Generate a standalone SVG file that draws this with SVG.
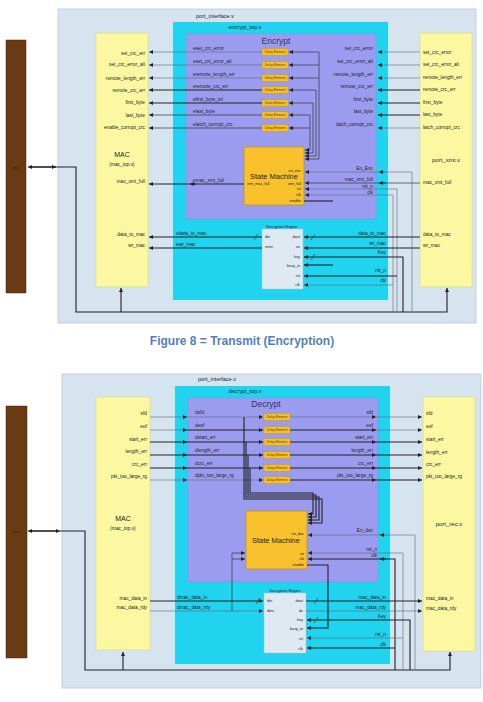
<svg xmlns="http://www.w3.org/2000/svg" width="483" height="702" viewBox="0 0 483 702">
<style>
.t{font-family:"Liberation Sans",Arial,sans-serif;fill:#222}
.s{font-size:4.8px}
.xs{font-size:3.8px}
.dl{font-size:3.2px;fill:#5a4200}
.r{text-anchor:end}
.m{text-anchor:middle}
.outer{fill:#d5e4ef;stroke:#b9c9d6;stroke-width:0.8}
.bar{fill:#6a3a12;stroke:#4e2a0c;stroke-width:0.5}
.mac{fill:#fcf8a2;stroke:#ddd67a;stroke-width:0.6}
.cyan{fill:#20d3ef}
.purple{fill:#9b9cf0;stroke:#8a8ae0;stroke-width:0.5}
.sm{fill:#f9c22c;stroke:#b8901a;stroke-width:0.7}
.dly{fill:#f5c02e;stroke:#c89410;stroke-width:0.5}
.eng{fill:#dfe9f2;stroke:#b0c0cc;stroke-width:0.5}
.w{stroke:#333;stroke-width:0.7;fill:none}
.wt{stroke:#222;stroke-width:1.1;fill:none}
.wg{stroke:#667;stroke-width:0.6;fill:none}
.cap{font-family:"Liberation Sans",Arial,sans-serif;font-size:12px;font-weight:bold;fill:#4f81bd}
</style>
<defs>
<marker id="a" viewBox="0 0 6 6" refX="6" refY="3" markerWidth="4" markerHeight="4" markerUnits="userSpaceOnUse" orient="auto"><path d="M0,0 L6,3 L0,6 z" fill="#222"/></marker>
</defs>

<!-- ============ TOP: Transmit ============ -->
<g id="port-interface-top"><rect x="58" y="9" width="418" height="314" class="outer"/><text x="215" y="18" class="t s m" style="font-size:5.5px">port_interface.v</text></g>
<g id="port-bar-top"><rect x="6" y="40" width="20" height="253" class="bar"/><text x="16" y="169" class="t xs m">port</text></g>
<g id="mac-top">
<rect x="96" y="33" width="52" height="254" class="mac"/>
<text x="145" y="55" class="t s r">set_crc_err</text>
<text x="145" y="66" class="t s r">set_crc_error_alt</text>
<text x="145" y="80" class="t s r">remote_length_err</text>
<text x="145" y="92" class="t s r">remote_crc_err</text>
<text x="145" y="104" class="t s r">first_byte</text>
<text x="145" y="117" class="t s r">last_byte</text>
<text x="145" y="129" class="t s r">enable_corrupt_crc</text>
<text x="122" y="157" class="t m" style="font-size:7px">MAC</text>
<text x="122" y="166" class="t s m">(mac_top.v)</text>
<text x="145" y="183" class="t s r">mac_xmt_full</text>
<text x="145" y="236" class="t s r">data_to_mac</text>
<text x="145" y="247" class="t s r">wr_mac</text>
</g>
<g id="encrypt-top"><rect x="173" y="22" width="215" height="278" class="cyan"/><text x="245" y="29" class="t s m" style="font-size:5.5px">encrypt_top.v</text></g>
<g id="encrypt">
<rect x="186" y="34" width="190" height="185" class="purple"/>
<text x="276" y="44" class="t m" style="font-size:8.5px;fill:#33335a">Encrypt</text>
<text x="193" y="50" class="t s">eset_crc_error</text>
<text x="193" y="63" class="t s">eset_crc_error_alt</text>
<text x="193" y="76" class="t s">eremote_length_err</text>
<text x="193" y="88" class="t s">eremote_crc_err</text>
<text x="193" y="101" class="t s">efirst_byte_int</text>
<text x="193" y="113" class="t s">elast_byte</text>
<text x="193" y="126" class="t s">elatch_corrupt_crc</text>
<text x="373" y="50" class="t s r">set_crc_error</text>
<text x="373" y="63" class="t s r">set_crc_error_alt</text>
<text x="373" y="76" class="t s r">remote_length_err</text>
<text x="373" y="88" class="t s r">remote_crc_err</text>
<text x="373" y="101" class="t s r">first_byte</text>
<text x="373" y="113" class="t s r">last_byte</text>
<text x="373" y="126" class="t s r">latch_corrupt_crc</text>
<text x="373" y="170" class="t s r">En_Enc</text>
<text x="373" y="181" class="t s r">mac_xmt_full</text>
<text x="373" y="187.5" class="t s r">rst_n</text>
<text x="373" y="193.5" class="t s r">clk</text>
<text x="193" y="182" class="t s">emac_xmt_full</text>
</g>
<g id="delay-top">
<rect x="262" y="48.5" width="26" height="7" class="dly"/><text x="275" y="53.2" class="t dl m">Delay Element</text>
<rect x="262" y="61.5" width="26" height="7" class="dly"/><text x="275" y="66.2" class="t dl m">Delay Element</text>
<rect x="262" y="74.5" width="26" height="7" class="dly"/><text x="275" y="79.2" class="t dl m">Delay Element</text>
<rect x="262" y="86.5" width="26" height="7" class="dly"/><text x="275" y="91.2" class="t dl m">Delay Element</text>
<rect x="262" y="99.5" width="26" height="7" class="dly"/><text x="275" y="104.2" class="t dl m">Delay Element</text>
<rect x="262" y="111.5" width="26" height="7" class="dly"/><text x="275" y="116.2" class="t dl m">Delay Element</text>
<rect x="262" y="124.5" width="26" height="7" class="dly"/><text x="275" y="129.2" class="t dl m">Delay Element</text>
</g>
<g id="state-machine-top">
<rect x="244" y="147" width="60" height="58" class="sm"/>
<text x="274" y="179" class="t m" style="font-size:7.5px">State Machine</text>
<text x="301" y="172" class="t xs r">en_enc</text>
<text x="301" y="184.5" class="t xs r">xmt_full</text>
<text x="301" y="190" class="t xs r">rst</text>
<text x="301" y="196" class="t xs r">clk</text>
<text x="301" y="202" class="t xs r">enable</text>
<text x="247" y="185" class="t xs">xmt_mac_full</text>
</g>
<g id="encryption-engine">
<rect x="262" y="229" width="41" height="60" class="eng"/>
<text x="282" y="227.5" class="t xs m">Encryption Engine</text>
<text x="265" y="238" class="t xs">din</text>
<text x="265" y="248" class="t xs">wren</text>
<text x="300" y="238" class="t xs r">dout</text>
<text x="300" y="248" class="t xs r">wr</text>
<text x="300" y="258" class="t xs r">key</text>
<text x="300" y="267" class="t xs r">busy_in</text>
<text x="300" y="277" class="t xs r">rst</text>
<text x="300" y="286" class="t xs r">clk</text>
</g>
<g id="port-xmt">
<rect x="420" y="33" width="52" height="254" class="mac"/>
<text x="423" y="54" class="t s">set_crc_error</text>
<text x="423" y="66" class="t s">set_crc_error_alt</text>
<text x="423" y="79" class="t s">remote_length_err</text>
<text x="423" y="91" class="t s">remote_crc_err</text>
<text x="423" y="104" class="t s">first_byte</text>
<text x="423" y="116" class="t s">last_byte</text>
<text x="423" y="129" class="t s">latch_corrupt_crc</text>
<text x="446" y="162" class="t m" style="font-size:6px">port_xmt.v</text>
<text x="423" y="184" class="t s">mac_xmt_full</text>
<text x="423" y="236" class="t s">data_to_mac</text>
<text x="423" y="247" class="t s">wr_mac</text>
</g>
<g id="labels-top">
<text x="176" y="235" class="t s">edata_to_mac</text>
<text x="176" y="246" class="t s">ewr_mac</text>
<text x="386" y="235" class="t s r">data_to_mac</text>
<text x="386" y="245" class="t s r">wr_mac</text>
<text x="386" y="254" class="t s r">Key</text>
<text x="386" y="272" class="t s r">rst_n</text>
<text x="386" y="282" class="t s r">clk</text>
</g>
<g id="connectors-top">
<path d="M56,167 H28" class="wt" marker-end="url(#a)"/>
<path d="M30,167 H56" class="wt" marker-end="url(#a)"/>
<path d="M56,167 H76 V312 H447 V288" class="wt" marker-end="url(#a)"/>
<path d="M121,312 V288" class="wt" marker-end="url(#a)"/>
<path d="M262,52 H149" class="wg" marker-end="url(#a)"/>
<path d="M262,65 H149" class="wg" marker-end="url(#a)"/>
<path d="M262,78 H149" class="wg" marker-end="url(#a)"/>
<path d="M262,90 H149" class="wt" marker-end="url(#a)"/>
<path d="M262,103 H149" class="wt" marker-end="url(#a)"/>
<path d="M262,115 H149" class="w" marker-end="url(#a)"/>
<path d="M262,128 H149" class="w" marker-end="url(#a)"/>
<path d="M420,52 H378" class="wg" marker-end="url(#a)"/>
<path d="M420,65 H378" class="wg" marker-end="url(#a)"/>
<path d="M420,78 H378" class="wg" marker-end="url(#a)"/>
<path d="M420,90 H378" class="wt" marker-end="url(#a)"/>
<path d="M420,103 H378" class="wt" marker-end="url(#a)"/>
<path d="M420,115 H378" class="wt" marker-end="url(#a)"/>
<path d="M420,128 H378" class="wg" marker-end="url(#a)"/>
<path d="M319,52 H289" class="w" marker-end="url(#a)"/>
<path d="M319,65 H289" class="w" marker-end="url(#a)"/>
<path d="M319,78 H289" class="w" marker-end="url(#a)"/>
<path d="M316,90 H289" class="w" marker-end="url(#a)"/>
<path d="M313,103 H289" class="w" marker-end="url(#a)"/>
<path d="M310,115 H289" class="w" marker-end="url(#a)"/>
<path d="M310,128 H289" class="w" marker-end="url(#a)"/>
<path d="M319,52 V159 H305" class="w" marker-end="url(#a)"/>
<path d="M316,90 V156 H305" class="w" marker-end="url(#a)"/>
<path d="M313,103 V153 H305" class="w" marker-end="url(#a)"/>
<path d="M310,115 V150 H305" class="w" marker-end="url(#a)"/>
<path d="M412,312 V172 H305" class="wg" marker-end="url(#a)"/>
<path d="M386,172 H379" class="wg" marker-end="url(#a)"/>
<path d="M420,183 H305" class="w" marker-end="url(#a)"/>
<path d="M386,183 H379" class="w" marker-end="url(#a)"/>
<path d="M397,312 V189 H305" class="wg" marker-end="url(#a)"/>
<path d="M393,312 V195 H305" class="wg" marker-end="url(#a)"/>
<path d="M304,201 H333" class="wt"/>
<path d="M244,184 H149" class="wt" marker-end="url(#a)"/>
<path d="M196,184 H190" class="wt" marker-end="url(#a)"/>
<path d="M262,237 H149" class="wt" marker-end="url(#a)"/>
<path d="M262,248 H149" class="wt" marker-end="url(#a)"/>
<path d="M254,240 L258,234" class="w"/>
<path d="M420,237 H304" class="wt" marker-end="url(#a)"/>
<path d="M420,248 H304" class="wt" marker-end="url(#a)"/>
<path d="M311,240 L315,234" class="w"/>
<path d="M403,312 V257 H304" class="wt" marker-end="url(#a)"/>
<path d="M311,260 L315,254" class="w"/>
<path d="M333,265 H304" class="wt" marker-end="url(#a)"/>
<path d="M397,276 H304" class="wt" marker-end="url(#a)"/>
<path d="M393,285 H304" class="wg" marker-end="url(#a)"/>
</g>

<text x="242" y="345" class="cap m">Figure 8 = Transmit (Encryption)</text>

<!-- ============ BOTTOM: Receive ============ -->
<g id="port-interface-bottom"><rect x="62" y="374" width="419" height="314" class="outer"/><text x="217" y="381" class="t s m" style="font-size:5.5px">port_interface.v</text></g>
<g id="port-bar-bottom"><rect x="6" y="406" width="21" height="252" class="bar"/><text x="16" y="533" class="t xs m">port</text></g>
<g id="mac-bottom">
<rect x="96" y="397" width="54" height="253" class="mac"/>
<text x="147" y="415" class="t s r">sfd</text>
<text x="147" y="428" class="t s r">eof</text>
<text x="147" y="441" class="t s r">start_err</text>
<text x="147" y="453" class="t s r">length_err</text>
<text x="147" y="466" class="t s r">crc_err</text>
<text x="147" y="478" class="t s r">pkt_too_large_rg</text>
<text x="123" y="521" class="t m" style="font-size:7px">MAC</text>
<text x="123" y="530" class="t s m">(mac_top.v)</text>
<text x="147" y="600" class="t s r">mac_data_in</text>
<text x="147" y="609" class="t s r">mac_data_rdy</text>
</g>
<g id="decrypt-top"><rect x="175" y="386" width="215" height="278" class="cyan"/><text x="245" y="393" class="t s m" style="font-size:5.5px">decrypt_top.v</text></g>
<g id="decrypt">
<rect x="188" y="398" width="190" height="184" class="purple"/>
<text x="266" y="407" class="t m" style="font-size:8.5px;fill:#33335a">Decrypt</text>
<text x="195" y="414" class="t s">dsfd</text>
<text x="195" y="427" class="t s">deof</text>
<text x="195" y="439" class="t s">dstart_err</text>
<text x="195" y="452" class="t s">dlength_err</text>
<text x="195" y="465" class="t s">dcrc_err</text>
<text x="195" y="477" class="t s">dpkt_too_large_rg</text>
<text x="373" y="414" class="t s r">sfd</text>
<text x="373" y="427" class="t s r">eof</text>
<text x="373" y="439" class="t s r">start_err</text>
<text x="373" y="452" class="t s r">length_err</text>
<text x="373" y="465" class="t s r">crc_err</text>
<text x="373" y="477" class="t s r">pkt_too_large_rg</text>
<text x="373" y="532" class="t s r">En_dec</text>
<text x="377" y="551" class="t s r">rst_n</text>
<text x="377" y="557" class="t s r">clk</text>
</g>
<g id="delay-bottom">
<rect x="264" y="413.5" width="26" height="7" class="dly"/><text x="277" y="418.2" class="t dl m">Delay Element</text>
<rect x="264" y="426.5" width="26" height="7" class="dly"/><text x="277" y="431.2" class="t dl m">Delay Element</text>
<rect x="264" y="438.5" width="26" height="7" class="dly"/><text x="277" y="443.2" class="t dl m">Delay Element</text>
<rect x="264" y="451.5" width="26" height="7" class="dly"/><text x="277" y="456.2" class="t dl m">Delay Element</text>
<rect x="264" y="464.5" width="26" height="7" class="dly"/><text x="277" y="469.2" class="t dl m">Delay Element</text>
<rect x="264" y="476.5" width="26" height="7" class="dly"/><text x="277" y="481.2" class="t dl m">Delay Element</text>
</g>
<g id="state-machine-bottom">
<rect x="246" y="511" width="61" height="58" class="sm"/>
<text x="276" y="543" class="t m" style="font-size:7.5px">State Machine</text>
<text x="304" y="535" class="t xs r">en_dec</text>
<text x="304" y="554.5" class="t xs r">rst</text>
<text x="304" y="560" class="t xs r">clk</text>
<text x="304" y="566" class="t xs r">enable</text>
</g>
<g id="decryption-engine">
<rect x="264" y="593" width="42" height="60" class="eng"/>
<text x="285" y="591.5" class="t xs m">Decryption Engine</text>
<text x="267" y="602" class="t xs">din</text>
<text x="267" y="612" class="t xs">dinv</text>
<text x="303" y="602" class="t xs r">dout</text>
<text x="303" y="612" class="t xs r">dv</text>
<text x="303" y="621" class="t xs r">key</text>
<text x="303" y="630" class="t xs r">busy_in</text>
<text x="303" y="640" class="t xs r">rst</text>
<text x="303" y="650" class="t xs r">clk</text>
</g>
<g id="port-rec">
<rect x="423" y="397" width="52" height="254" class="mac"/>
<text x="426" y="415" class="t s">sfd</text>
<text x="426" y="428" class="t s">eof</text>
<text x="426" y="441" class="t s">start_err</text>
<text x="426" y="454" class="t s">length_err</text>
<text x="426" y="466" class="t s">crc_err</text>
<text x="426" y="478" class="t s">pkt_too_large_rg</text>
<text x="449" y="526" class="t m" style="font-size:6px">port_rec.v</text>
<text x="426" y="600" class="t s">mac_data_in</text>
<text x="426" y="610" class="t s">mac_data_rdy</text>
</g>
<g id="labels-bottom">
<text x="177" y="599" class="t s">dmac_data_in</text>
<text x="177" y="609" class="t s">dmac_data_rdy</text>
<text x="386" y="599" class="t s r">mac_data_in</text>
<text x="386" y="609" class="t s r">mac_data_rdy</text>
<text x="386" y="618" class="t s r">Key</text>
<text x="386" y="636" class="t s r">rst_n</text>
<text x="386" y="646" class="t s r">clk</text>
</g>
<g id="connectors-bottom">
<path d="M58,531 H28" class="wt" marker-end="url(#a)"/>
<path d="M30,531 H60" class="wt" marker-end="url(#a)"/>
<path d="M60,531 H85 V670 H450 V652" class="wt" marker-end="url(#a)"/>
<path d="M123,670 V652" class="wt" marker-end="url(#a)"/>
<path d="M150,417 H187" class="wg" marker-end="url(#a)"/>
<path d="M150,430 H187" class="wg" marker-end="url(#a)"/>
<path d="M150,442 H187" class="wt" marker-end="url(#a)"/>
<path d="M150,455 H187" class="wt" marker-end="url(#a)"/>
<path d="M150,468 H187" class="wt" marker-end="url(#a)"/>
<path d="M150,480 H187" class="wg" marker-end="url(#a)"/>
<path d="M187,417 H263" class="wg" marker-end="url(#a)"/>
<path d="M187,430 H263" class="wt" marker-end="url(#a)"/>
<path d="M187,442 H263" class="wt" marker-end="url(#a)"/>
<path d="M187,455 H263" class="wt" marker-end="url(#a)"/>
<path d="M187,468 H263" class="wt" marker-end="url(#a)"/>
<path d="M187,480 H263" class="wg" marker-end="url(#a)"/>
<path d="M290,417 H376" class="wg" marker-end="url(#a)"/>
<path d="M290,430 H376" class="wt" marker-end="url(#a)"/>
<path d="M290,442 H376" class="wt" marker-end="url(#a)"/>
<path d="M290,455 H376" class="wt" marker-end="url(#a)"/>
<path d="M290,468 H376" class="wt" marker-end="url(#a)"/>
<path d="M290,480 H376" class="wt" marker-end="url(#a)"/>
<path d="M376,417 H422" class="wg" marker-end="url(#a)"/>
<path d="M376,430 H422" class="wg" marker-end="url(#a)"/>
<path d="M376,442 H422" class="wt" marker-end="url(#a)"/>
<path d="M376,455 H422" class="wt" marker-end="url(#a)"/>
<path d="M376,468 H422" class="wt" marker-end="url(#a)"/>
<path d="M376,480 H422" class="wt" marker-end="url(#a)"/>
<path d="M244,417 V499 H322 V523 H308" class="wt" marker-end="url(#a)"/>
<path d="M246,442 V497 H319 V520 H308" class="wt" marker-end="url(#a)"/>
<path d="M248,455 V495 H316 V517 H308" class="wt" marker-end="url(#a)"/>
<path d="M250,468 V493 H313 V514 H308" class="wt" marker-end="url(#a)"/>
<path d="M232,611 V553 H245" class="w" marker-end="url(#a)"/>
<path d="M232,559 H245" class="w" marker-end="url(#a)"/>
<path d="M415,670 V535 H308" class="wg" marker-end="url(#a)"/>
<path d="M386,535 H380" class="wg" marker-end="url(#a)"/>
<path d="M403,670 V553 H308" class="wg" marker-end="url(#a)"/>
<path d="M395,670 V559 H308" class="wt" marker-end="url(#a)"/>
<path d="M386,559 H380" class="wt" marker-end="url(#a)"/>
<path d="M150,601 H263" class="wt" marker-end="url(#a)"/>
<path d="M150,611 H263" class="wg" marker-end="url(#a)"/>
<path d="M256,604 L260,598" class="w"/>
<path d="M306,601 H422" class="wt" marker-end="url(#a)"/>
<path d="M306,611 H422" class="wg" marker-end="url(#a)"/>
<path d="M314,604 L318,598" class="w"/>
<path d="M410,670 V620 H307" class="wt" marker-end="url(#a)"/>
<path d="M314,623 L318,617" class="w"/>
<path d="M307,565 H328 V628 H307" class="wt" marker-end="url(#a)"/>
<path d="M403,638 H307" class="wg" marker-end="url(#a)"/>
<path d="M395,648 H307" class="wt" marker-end="url(#a)"/>
</g>
</svg>
